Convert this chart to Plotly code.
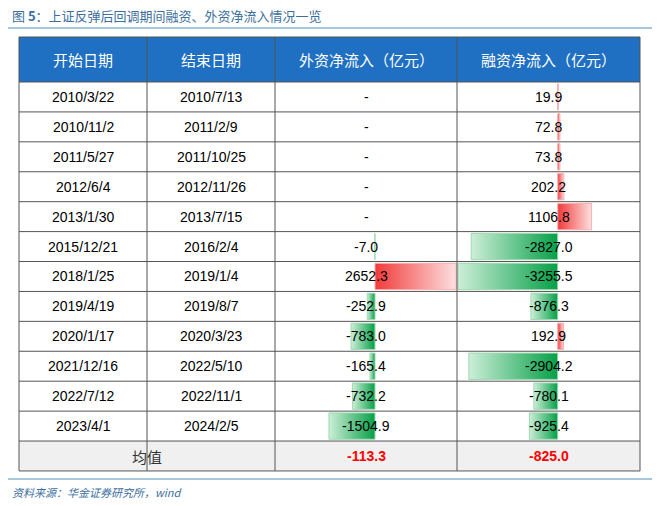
import plotly.graph_objects as go

# 数据
start_dates = ["2010/3/22", "2010/11/2", "2011/5/27", "2012/6/4", "2013/1/30", "2015/12/21",
               "2018/1/25", "2019/4/19", "2020/1/17", "2021/12/16", "2022/7/12", "2023/4/1"]
end_dates = ["2010/7/13", "2011/2/9", "2011/10/25", "2012/11/26", "2013/7/15", "2016/2/4",
             "2019/1/4", "2019/8/7", "2020/3/23", "2022/5/10", "2022/11/1", "2024/2/5"]
foreign_flow = [None, None, None, None, None, -7.0, 2652.3, -252.9, -783.0, -165.4, -732.2, -1504.9]
margin_flow = [19.9, 72.8, 73.8, 202.2, 1106.8, -2827.0, -3255.5, -876.3, 192.9, -2904.2, -780.1, -925.4]
headers = ["开始日期", "结束日期", "外资净流入（亿元）", "融资净流入（亿元）"]
avg_label = "均值"
avg_foreign = -113.3
avg_margin = -825.0

W, H = 660, 506
OFF = 8  # 页面边距补偿
col_x = [19 - OFF, 147 - OFF, 275 - OFF, 457 - OFF, 640 - OFF]
top, head_bot, row_h = 37 - OFF, 82 - OFF, 29.92
zero3, zero4 = 375 - OFF, 557.7 - OFF
n = len(start_dates)
bottom = head_bot + row_h * (n + 1)

def px(x):
    return x / W

def py(y):
    return 1 - y / H

fig = go.Figure()
shapes, annos = [], []

# 表头背景、均值行背景
shapes.append(dict(type="rect", xref="paper", yref="paper", x0=px(col_x[0]), x1=px(col_x[-1]),
                   y0=py(head_bot), y1=py(top), fillcolor="#1f6fc2", line_width=0, layer="below"))
shapes.append(dict(type="rect", xref="paper", yref="paper", x0=px(col_x[0]), x1=px(col_x[-1]),
                   y0=py(bottom), y1=py(bottom - row_h), fillcolor="#f0f0f0", line_width=0, layer="below"))

# 数据条（与数值同一比例）
scale = 0.0306
def add_bars(vals, xa, ya):
    for i, v in enumerate(vals):
        if v is None:
            continue
        if v >= 0:
            cs = [[0, "#f23a3a"], [1, "#fde0e0"]]
            lc = "#f7b0b0"
        else:
            cs = [[0, "#cdeed8"], [1, "#06a048"]]
            lc = "#a0d8b2"
        y0, y1 = i - 0.44, i + 0.44
        fig.add_trace(go.Scatter(x=[0, v, v, 0, 0], y=[y0, y0, y1, y1, y0], mode="lines",
                                 fill="toself", line=dict(color=lc, width=1),
                                 fillgradient=dict(type="horizontal", colorscale=cs),
                                 xaxis=xa, yaxis=ya, hoverinfo="skip", showlegend=False))

add_bars(foreign_flow, "x", "y")
add_bars(margin_flow, "x2", "y")

def x_range(c0, c1, zero):
    return [(c0 - zero) / scale, (c1 - zero) / scale]

ydom = [py(head_bot + row_h * n), py(head_bot)]
fig.update_layout(
    xaxis=dict(domain=[px(col_x[2]), px(col_x[3])], range=x_range(col_x[2], col_x[3], zero3), visible=False),
    xaxis2=dict(domain=[px(col_x[3]), px(col_x[4])], range=x_range(col_x[3], col_x[4], zero4), visible=False),
    yaxis=dict(domain=ydom, range=[n - 0.5, -0.5], visible=False),
)

# 网格线
grid = "#555555"
for x in col_x:
    shapes.append(dict(type="line", xref="paper", yref="paper", x0=px(x), x1=px(x),
                       y0=py(top), y1=py(bottom), line=dict(color=grid, width=1)))
for k in range(n + 2):
    y = head_bot + row_h * k
    shapes.append(dict(type="line", xref="paper", yref="paper", x0=px(col_x[0]), x1=px(col_x[-1]),
                       y0=py(y), y1=py(y), line=dict(color=grid, width=1)))
shapes.append(dict(type="line", xref="paper", yref="paper", x0=px(col_x[0]), x1=px(col_x[-1]),
                   y0=py(top), y1=py(top), line=dict(color=grid, width=1)))

# 标题和底部线
shapes.append(dict(type="line", xref="paper", yref="paper", x0=0, x1=1, y0=py(28 - OFF), y1=py(28 - OFF),
                   line=dict(color="#8ab4cf", width=1.5)))
shapes.append(dict(type="line", xref="paper", yref="paper", x0=0, x1=1, y0=py(479 - OFF), y1=py(479 - OFF),
                   line=dict(color="#8ab4cf", width=1.5)))

cjk = "Noto Sans CJK SC"
num = "Liberation Sans, Arial"

def text(x, y, s, size=14, color="black", font=num, anchor="center"):
    annos.append(dict(x=px(x), y=py(y), xref="paper", yref="paper", text=s, showarrow=False,
                      xanchor=anchor, yanchor="middle", font=dict(family=font, size=size, color=color)))

text(2, 15 - OFF, "图 <b>5</b>：上证反弹后回调期间融资、外资净流入情况一览", size=13, color="#3d6f9e", font=cjk, anchor="left")
centers = [(col_x[i] + col_x[i + 1]) / 2 for i in range(4)]
for c, h in zip(centers, headers):
    text(c, (top + head_bot) / 2, h, size=15, color="white", font=cjk)

def fmt(v):
    return "-" if v is None else f"{v:.1f}"

for i in range(n):
    yc = head_bot + row_h * (i + 0.5)
    text(centers[0], yc, start_dates[i])
    text(centers[1], yc, end_dates[i])
    text(centers[2], yc, fmt(foreign_flow[i]))
    text(centers[3], yc, fmt(margin_flow[i]))

yc = bottom - row_h / 2
text((col_x[0] + col_x[2]) / 2, yc, avg_label, size=15, color="#333333", font=cjk)
text(centers[2], yc, f"<b>{avg_foreign:.1f}</b>", color="#ff0000")
text(centers[3], yc, f"<b>{avg_margin:.1f}</b>", color="#ff0000")

text(2, 492 - OFF, "<i>资料来源：华金证券研究所，wind</i>", size=11, color="#3d6f9e", font=cjk, anchor="left")

fig.update_layout(width=W, height=H, margin=dict(l=0, r=0, t=0, b=0),
                  paper_bgcolor="white", plot_bgcolor="rgba(0,0,0,0)",
                  shapes=shapes, annotations=annos)
fig.write_html("out.html")
